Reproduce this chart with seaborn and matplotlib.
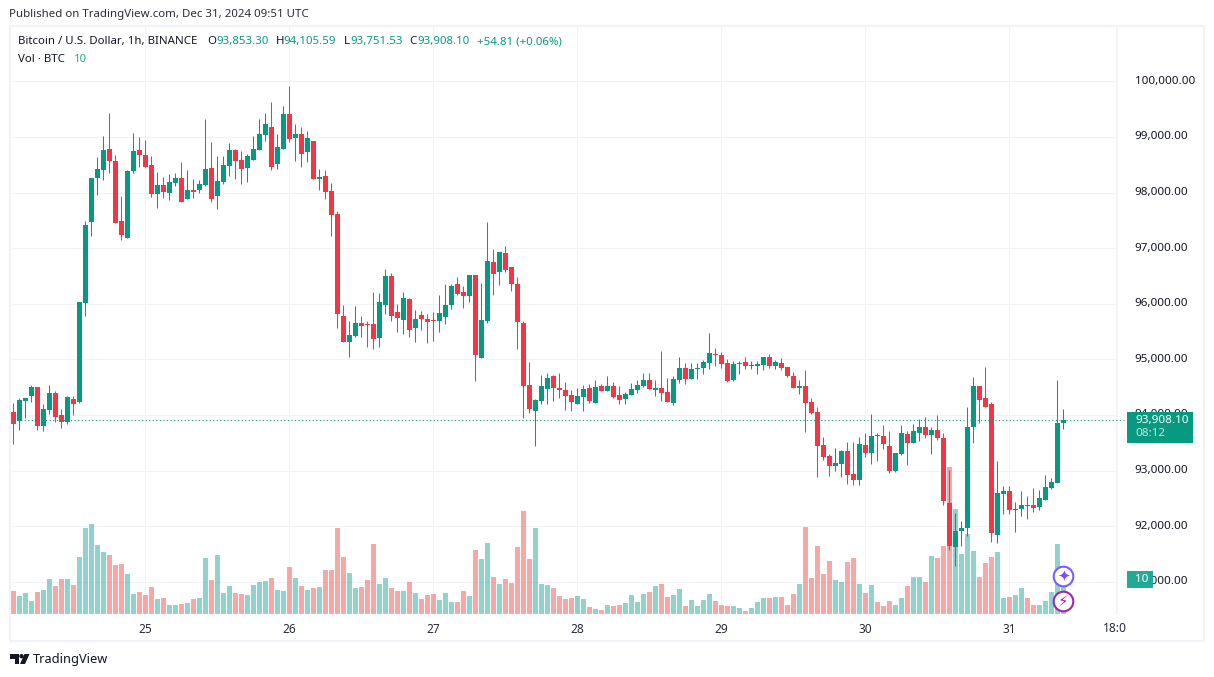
import numpy as np
import pandas as pd
import matplotlib
matplotlib.use("Agg")
import matplotlib.pyplot as plt
from matplotlib.patches import Rectangle, Circle, Polygon
import seaborn as sns

opens = [94047,93891,94245,94335,94497,93801,94083,94389,93993,93873,
 94281,94227,96015,97467,98259,98403,98781,98565,97485,97179,
 98385,98763,98673,98493,97971,98133,97989,98169,98259,97881,
 98043,98043,98133,98439,97935,98187,98475,98763,98583,98439,
 98583,98763,99033,99177,98511,98781,99411,98979,99051,98727,
 98925,98241,98295,98025,97611,95775,95307,95415,95651,95633,
 95633,95381,95975,96497,95849,95705,96083,95561,95795,95723,
 95705,95687,95759,95975,96353,96209,96137,96515,95021,95687,
 96749,96569,96911,96659,96353,95651,94535,94069,94249,94465,
 94699,94483,94447,94357,94195,94321,94483,94213,94519,94429,
 94519,94357,94285,94357,94447,94519,94627,94447,94483,94411,
 94213,94627,94843,94645,94825,94843,94933,95095,95077,94933,
 94627,94915,94951,94885,94879,94897,95041,94879,94933,94861,
 94699,94483,94519,94231,94051,93457,93259,93079,93115,93349,
 92935,92827,93457,93313,93637,93619,93439,92989,93295,93655,
 93493,93673,93781,93637,93727,93583,92413,91621,91909,91963,
 93781,94519,94303,94195,91837,92575,92629,92287,92305,92377,
 92377,92341,92467,92683,92773,93853]
highs = [94209,94299,94299,94533,94497,94191,94533,94425,94101,94335,
 94335,96027,97485,98259,98637,99015,99429,98673,97935,98403,
 99069,98997,98943,98655,98367,98277,98331,98349,98547,98403,
 98241,98223,99321,98907,98655,98655,98889,98781,98745,98691,
 99015,99321,99429,99627,99051,99555,99915,99231,99177,99105,
 98925,98421,98403,98169,97665,95973,95685,95955,95777,95687,
 96209,96191,96623,96551,95993,96209,96101,95885,95867,95813,
 95849,96155,96353,96353,96479,96317,96515,96515,96371,97469,
 96983,96929,97037,96659,96479,95687,94949,94285,94717,94753,
 94717,94753,94591,94447,94483,94537,94555,94627,94555,94699,
 94591,94519,94411,94573,94627,94753,94753,94627,95149,94663,
 94699,95041,94933,94933,94933,94987,95473,95203,95131,95005,
 94969,94969,95041,94969,94969,95041,95095,94987,95023,94861,
 94771,94627,94807,94303,94141,93601,93295,93403,93367,93511,
 93511,93601,93673,94015,93673,93817,93709,93313,93817,93709,
 93835,93925,93961,93781,93997,93673,93007,92233,92089,94141,
 94681,94519,94861,94231,93169,92719,92719,92431,92629,92539,
 92683,92647,92917,92863,94627,94105.59]
lows = [93477,93729,93945,94233,93729,93711,94017,93873,93765,93837,
 93999,94209,95781,97221,97959,98229,98355,97449,97143,97179,
 98355,98457,98457,97917,97719,97899,97863,98115,97827,97881,
 97899,97989,98115,97827,97701,98151,98295,98241,98151,98187,
 98583,98763,98925,98403,98421,98781,98907,98565,98457,98547,
 98241,98043,97881,97215,95559,95307,95037,95397,95399,95219,
 95183,95219,95813,95687,95489,95453,95399,95309,95525,95291,
 95327,95489,95633,95903,96155,95921,96029,94607,95021,95651,
 96155,96335,96569,96227,95183,93941,94031,93439,94195,94195,
 94249,94303,94087,94069,94195,94069,94213,94213,94429,94429,
 94303,94195,94195,94357,94393,94501,94465,94339,94249,94231,
 94177,94573,94555,94645,94645,94735,94825,94879,94843,94591,
 94609,94735,94825,94825,94735,94807,94843,94825,94807,94681,
 94483,94375,93691,94015,92881,93187,92899,92989,92881,92755,
 92737,92737,93241,93115,93169,93385,92953,92971,93277,93097,
 93493,93529,93583,93295,93547,92377,91567,91279,91639,91819,
 93493,93853,94141,91711,91693,92215,92215,91891,92179,92125,
 92251,92287,92467,92665,92773,93751.53]
closes = [93837,94263,94299,94497,93801,94101,94389,93963,93873,94317,
 94191,96027,97413,98259,98421,98763,98565,97449,97233,98385,
 98745,98673,98457,97971,98133,98007,98187,98259,97827,98043,
 98007,98151,98421,97881,98205,98493,98763,98565,98421,98655,
 98781,99051,99231,98457,98817,99411,98961,99051,98691,98979,
 98241,98277,98007,97593,95811,95307,95433,95649,95597,95615,
 95363,96029,96497,95777,95741,96101,95525,95723,95723,95669,
 95687,95831,95975,96317,96173,96137,96515,95075,95705,96767,
 96533,96929,96605,96353,95669,94517,94103,94267,94519,94663,
 94483,94447,94339,94231,94339,94465,94249,94501,94429,94519,
 94321,94267,94375,94465,94537,94627,94465,94483,94393,94231,
 94645,94843,94645,94825,94843,94951,95113,95077,94915,94609,
 94915,94933,94879,94897,94915,95041,94879,94951,94843,94699,
 94483,94519,94213,94033,93439,93241,93079,93133,93349,92917,
 92827,93475,93313,93619,93619,93475,92989,93313,93673,93493,
 93709,93781,93637,93727,93583,92449,91639,91909,91963,93781,
 94519,94267,94141,91873,92593,92629,92287,92305,92377,92359,
 92323,92503,92701,92791,93853,93908.10]
volumes = [6.9,5.4,6.3,3.9,6.6,7.2,10.5,8.4,10.5,10.5,
 8.7,17.1,25.8,27.0,20.7,18.6,17.7,14.7,15.0,12.0,
 6.0,6.6,5.7,8.1,4.5,4.8,2.7,2.7,3.0,3.3,
 4.5,4.8,16.8,10.2,17.7,6.3,8.4,6.3,6.0,5.7,
 8.7,9.6,9.9,10.8,7.2,6.9,14.1,10.8,8.4,7.2,
 7.8,8.1,13.2,13.2,25.8,17.1,12.3,7.8,8.1,10.2,
 21.0,9.0,10.8,7.8,6.9,6.9,9.6,6.3,4.5,5.7,
 6.0,4.2,6.3,3.6,3.6,6.9,5.4,19.2,16.5,21.3,
 11.1,9.0,10.5,9.3,20.1,30.9,16.5,25.8,9.0,8.7,
 7.8,5.4,4.5,4.8,5.4,4.5,2.1,1.5,1.2,2.7,
 2.4,2.7,3.3,5.7,3.6,6.0,6.6,8.4,9.0,5.1,
 5.7,7.5,2.4,4.2,2.4,4.2,6.0,3.9,2.7,2.4,
 2.4,1.8,0.9,1.8,3.6,4.8,4.8,5.1,5.1,2.7,
 6.0,9.0,26.1,10.8,20.4,12.0,15.9,10.2,9.6,15.6,
 16.8,9.0,6.3,8.7,3.6,2.4,3.9,2.7,4.8,8.4,
 11.1,11.1,9.6,17.4,16.8,20.4,44.1,31.5,18.0,24.0,
 18.9,11.1,15.3,17.1,18.6,4.8,5.1,5.7,7.8,4.8,
 2.7,2.7,3.9,6.6,21.0,10.5]
hours = list(range(len(opens)))
date_hours = [22, 46, 70, 94, 118, 142, 166, 184]
date_labels = ["25", "26", "27", "28", "29", "30", "31", "18:0"]
price_ticks = [91000, 92000, 93000, 94000, 95000, 96000, 97000, 98000, 99000, 100000]
last_price = closes[-1]

UP, DOWN = "#089981", "#F23645"
VOL_UP, VOL_DOWN = "#26a69a", "#ef5350"
GRID = "#f2f3f6"
INK = "#131722"
FONT = "Noto Sans"

sns.set_theme(style="white")
plt.rcParams["font.family"] = [FONT, "DejaVu Sans"]

W, H = 1214, 677
fig = plt.figure(figsize=(W / 100, H / 100), dpi=100, facecolor="white")
L, R, T, B = 10.0, 1117.3, 27.0, 614.0
rect = [L / W, 1 - B / H, (R - L) / W, (B - T) / H]

df = pd.DataFrame(dict(hour=hours, o=opens, h=highs, l=lows, c=closes, v=volumes))
df["up"] = df.c >= df.o
df["body"] = (df.c - df.o).abs().clip(lower=18)
df["base"] = df[["o", "c"]].min(axis=1)

xlim = (-0.55, 184.0)
ylim = (90419, 100977)

# grid layer with the axis labels
axg = fig.add_axes(rect, zorder=1)
axg.set_xlim(xlim); axg.set_ylim(ylim)
axg.set_yticks(price_ticks)
axg.set_yticklabels([f"{p:,.2f}" for p in price_ticks], color=INK, fontsize=8.4, va="center")
axg.yaxis.tick_right()
axg.set_xticks(date_hours)
axg.set_xticklabels(date_labels[:-1] + [""], color="#2a2e39", fontsize=8.6)
axg.tick_params(axis="y", length=0, pad=12.4)
axg.tick_params(axis="x", length=0, pad=6.2)
axg.grid(True, color=GRID, lw=0.8)
for s in axg.spines.values():
    s.set_visible(False)
axg.spines["right"].set_visible(True)
axg.spines["right"].set_color(GRID)

# volume layer
axv = fig.add_axes(rect, zorder=2)
axv.patch.set_alpha(0)
for flag, col in ((True, VOL_UP), (False, VOL_DOWN)):
    sub = df[df.up == flag]
    sns.barplot(data=sub, x="hour", y="v", native_scale=True, width=0.85, color=col,
                saturation=1, alpha=0.5, errorbar=None, linewidth=0, legend=False, ax=axv)
axv.set_xlim(xlim); axv.set_ylim(0, 176.1)
axv.axis("off")

# candle layer
ax = fig.add_axes(rect, zorder=3)
ax.patch.set_alpha(0)
ax.vlines(df.hour, df.l, df.h, colors=[UP if u else DOWN for u in df.up], lw=0.75, zorder=2, snap=True)
for flag, col in ((True, UP), (False, DOWN)):
    sub = df[df.up == flag]
    sns.barplot(data=sub, x="hour", y="body", bottom=sub["base"].to_numpy(), native_scale=True,
                width=0.85, color=col, saturation=1, errorbar=None, linewidth=0, legend=False,
                ax=ax, zorder=3)
ax.axhline(last_price, color=UP, lw=0.8, ls=(0, (1, 2.2)), zorder=4, clip_on=False,
           xmin=0, xmax=1.01)
ax.set_xlim(xlim); ax.set_ylim(ylim)
ax.axis("off")

# overlay in figure pixels: header, labels, badges, frame
ov = fig.add_axes([0, 0, 1, 1], zorder=5)
ov.set_xlim(0, W); ov.set_ylim(H, 0)
ov.axis("off")
ov.patch.set_alpha(0)
ov.add_patch(Rectangle((9.5, 26), 1194.5, 615, fill=False, ec="#f0f3fa", lw=1.5))
ov.text(9, 14.5, "Published on TradingView.com, Dec 31, 2024 09:51 UTC", fontsize=8.25, color="#2a2e39", va="center")
ov.text(1114.5, 628.5, date_labels[-1], color="#2a2e39", fontsize=8.6, ha="center", va="center")


def hdr(x, s, c=INK, y=41.5):
    ov.text(x, y, s, fontsize=8.25, color=c, va="center")


hdr(18, "Bitcoin / U.S. Dollar, 1h, BINANCE")
for x, s in ((207, "O"), (275.5, "H"), (343.5, "L"), (409.5, "C")):
    hdr(x, s)
for x, s in ((216.5, "93,853.30"), (283.5, "94,105.59"), (350.5, "93,751.53"), (417.5, "93,908.10"),
             (477, "+54.81 (+0.06%)")):
    hdr(x, s, UP)
hdr(18, "Vol · BTC", y=59)
hdr(74, "10", "#22ab94", y=59)

# last price and volume badges
ov.add_patch(Rectangle((1127, 412), 66, 31, fc=UP, ec="none", zorder=3))
ov.text(1135, 420, f"{last_price:,.2f}", color="white", fontsize=8.4, va="center", zorder=4, fontweight="medium")
ov.text(1135, 434, "08:12", color="#bfe6df", fontsize=8.4, va="center", zorder=4)
ov.add_patch(Rectangle((1127, 571), 26, 17, fc="#22ab94", ec="none", zorder=3))
ov.text(1135, 579.5, "10", color="white", fontsize=8.4, va="center", zorder=4)

# event icons
ov.add_patch(Circle((1063.5, 576.5), 9.8, fc="white", ec="#7c5cff", lw=1.5, zorder=3))
ov.text(1063.5, 576.5, "\u2726", color="#7c4dff", fontsize=11, ha="center", va="center", family="DejaVu Sans", zorder=4)
ov.add_patch(Circle((1063.5, 601.5), 9.8, fc="white", ec="#9c27b0", lw=1.5, zorder=3))
ov.text(1063.5, 601.5, "\u26a1", color="#9c27b0", fontsize=11, ha="center", va="center", family="DejaVu Sans", zorder=4)

# footer logo and word mark
ov.add_patch(Polygon([(10, 654), (19, 654), (19, 664), (14.5, 664), (14.5, 658.5), (10, 658.5)], fc=INK, ec="none"))
ov.add_patch(Circle((21.5, 656.2), 2.2, fc=INK, ec="none"))
ov.add_patch(Polygon([(24.5, 654), (29.5, 654), (25, 664), (20, 664)], fc=INK, ec="none"))
ov.text(33, 659.5, "TradingView", fontsize=9.2, color=INK, va="center", fontweight="medium")

fig.savefig("out.png", dpi=100, facecolor="white")
